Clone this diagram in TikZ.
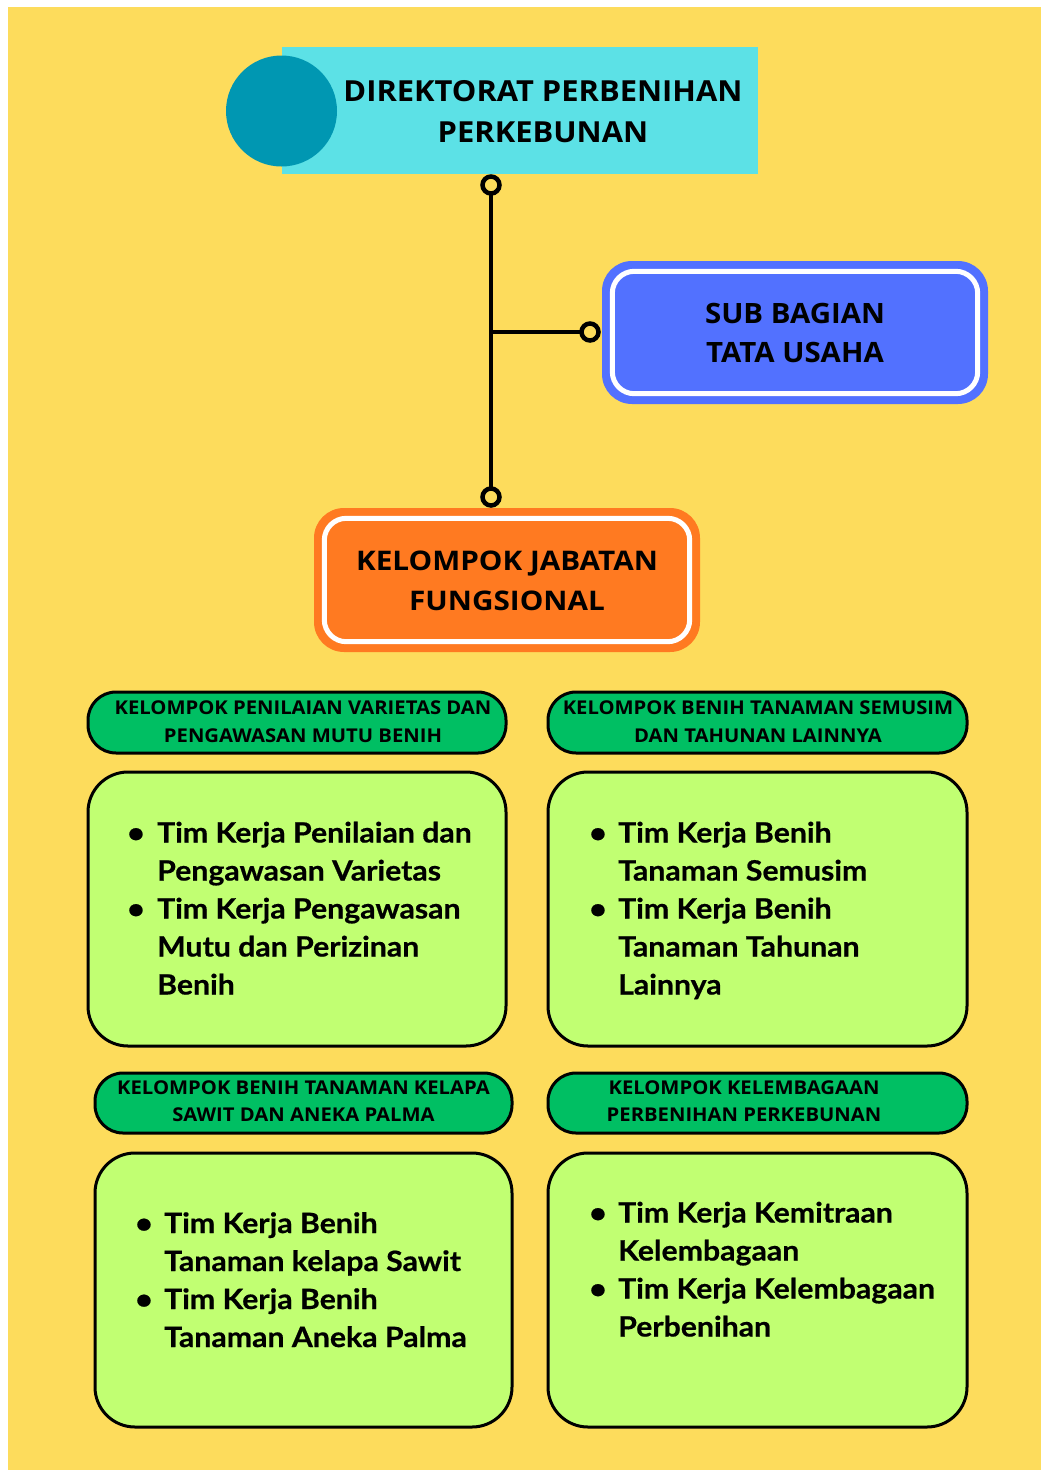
\documentclass[tikz,border=0pt]{standalone}
\usepackage{fontspec}
\setmainfont{Open Sans}
\newfontfamily\bodyfont{Lato}[FakeStretch=1.08, BoldFeatures={FakeBold=0.6}]
\definecolor{bg}{HTML}{FDDC5C}
\definecolor{cyanbox}{HTML}{5CE1E6}
\definecolor{tealc}{HTML}{0097B2}
\definecolor{bluebox}{HTML}{5271FF}
\definecolor{orangebox}{HTML}{FF7A21}
\definecolor{greenpill}{HTML}{00BF63}
\definecolor{lightgreen}{HTML}{C1FF72}
\tikzset{
  mainbox/.style={rounded corners=30pt, minimum width=386pt, inner sep=0pt},
  innerline/.style={white, line width=5pt, rounded corners=22pt},
  bigtext/.style={font=\bfseries\addfontfeatures{FakeStretch=1.1}\fontsize{27}{40}\selectfont, align=center, inner sep=0pt},
  pill/.style={fill=greenpill, draw=black, line width=3pt, rounded corners=28pt, minimum height=61pt, inner sep=0pt},
  pilltext/.style={font=\bfseries\addfontfeatures{FakeStretch=1.065}\fontsize{19}{28}\selectfont, align=center, inner sep=0pt},
  listbox/.style={fill=lightgreen, draw=black, line width=3pt, rounded corners=40pt, minimum height=274pt, inner sep=0pt},
  listtext/.style={anchor=base west, inner sep=0pt, font=\bodyfont\bfseries\fontsize{28}{38}\selectfont},
  ring/.style={circle, draw=black, fill=bg, line width=4.5pt, minimum size=17pt, inner sep=0pt},
  link/.style={black, line width=4.5pt}
}
\begin{document}
\begin{tikzpicture}[x=1pt,y=-1pt]
\useasboundingbox (0,0) rectangle (1041,1470);
\fill[white] (0,0) rectangle (1041,1470);
\fill[bg] (8,7) rectangle (1041,1470);

% Title
\node[fill=cyanbox, minimum width=476pt, minimum height=127pt, inner sep=0pt] (dir) at (520,110.5) {};
\node[circle, fill=tealc, minimum size=111pt, inner sep=0pt] (dircirc) at (281.5,111) {};
\node[font=\bfseries\addfontfeatures{FakeStretch=1.065}\fontsize{29}{41}\selectfont, align=center, inner sep=0pt] (dirtext) at (543,111.5) {DIREKTORAT PERBENIHAN\\PERKEBUNAN};

% Sub bagian
\node[mainbox, fill=bluebox, minimum height=143pt] (sub) at (795,332.5) {};
\draw[innerline] ([shift={(10.5,10.5)}]sub.north west) rectangle ([shift={(-10.5,-10.5)}]sub.south east);
\node[bigtext, font=\bfseries\addfontfeatures{FakeStretch=1.05}\fontsize{28}{39}\selectfont] (subtext) at (sub.center) {SUB BAGIAN\\TATA USAHA};

% Kelompok jabatan fungsional
\node[mainbox, fill=orangebox, minimum height=144pt] (kjf) at (507,580) {};
\draw[innerline] ([shift={(10.5,10.5)}]kjf.north west) rectangle ([shift={(-10.5,-10.5)}]kjf.south east);
\node[bigtext] (kjftext) at (507,581) {KELOMPOK JABATAN\\FUNGSIONAL};

% Connectors
\coordinate (r1) at (491,185);
\coordinate (r2) at (491,497);
\coordinate (j) at (491,332);
\coordinate (r3) at (590,332);
\draw[link] (r1) -- (r2);
\draw[link] (j) -- (r3);
\node[ring] (ring1) at (r1) {};
\node[ring] (ring2) at (r2) {};
\node[ring] (ring3) at (r3) {};

% Green headers
\node[pill, minimum width=418pt] (p1) at (297,722.5) {};
\node[pilltext] (p1t) at (303,721.5) {KELOMPOK PENILAIAN VARIETAS DAN\\PENGAWASAN MUTU BENIH};
\node[pill, minimum width=419pt] (p2) at (757.5,722.5) {};
\node[pilltext] (p2t) at (758,721.5) {KELOMPOK BENIH TANAMAN SEMUSIM\\DAN TAHUNAN LAINNYA};
\node[pill, minimum width=417pt, minimum height=60pt] (p3) at (303.5,1103) {};
\node[pilltext, font=\bfseries\addfontfeatures{FakeStretch=1.065}\fontsize{19}{27}\selectfont] (p3t) at (303.5,1101) {KELOMPOK BENIH TANAMAN KELAPA\\SAWIT DAN ANEKA PALMA};
\node[pill, minimum width=419pt, minimum height=60pt] (p4) at (757.5,1103) {};
\node[pilltext, font=\bfseries\addfontfeatures{FakeStretch=1.065}\fontsize{19}{27}\selectfont] (p4t) at (744,1101) {KELOMPOK KELEMBAGAAN\\PERBENIHAN PERKEBUNAN};

% List boxes
\node[listbox, minimum width=418pt] (b1) at (297,909) {};
\node[listbox, minimum width=419pt] (b2) at (757.5,909) {};
\node[listbox, minimum width=417pt] (b3) at (303.5,1290) {};
\node[listbox, minimum width=419pt] (b4) at (757.5,1290) {};

\node[listtext] (l1) at (127,842.5) {\begin{tabular}[t]{@{}p{30pt}@{}l@{}}
\textbullet & Tim Kerja Penilaian dan\\
 & Pengawasan Varietas\\
\textbullet & Tim Kerja Pengawasan\\
 & Mutu dan Perizinan\\
 & Benih\end{tabular}};
\node[listtext] (l2) at (589,842.5) {\begin{tabular}[t]{@{}p{29pt}@{}l@{}}
\textbullet & Tim Kerja Benih\\
 & Tanaman Semusim\\
\textbullet & Tim Kerja Benih\\
 & Tanaman Tahunan\\
 & Lainnya\end{tabular}};
\node[listtext] (l3) at (135,1233) {\begin{tabular}[t]{@{}p{29pt}@{}l@{}}
\textbullet & Tim Kerja Benih\\
 & Tanaman kelapa Sawit\\
\textbullet & Tim Kerja Benih\\
 & Tanaman Aneka Palma\end{tabular}};
\node[listtext] (l4) at (589,1222.5) {\begin{tabular}[t]{@{}p{29pt}@{}l@{}}
\textbullet & Tim Kerja Kemitraan\\
 & Kelembagaan\\
\textbullet & Tim Kerja Kelembagaan\\
 & Perbenihan\end{tabular}};
\end{tikzpicture}
\end{document}
